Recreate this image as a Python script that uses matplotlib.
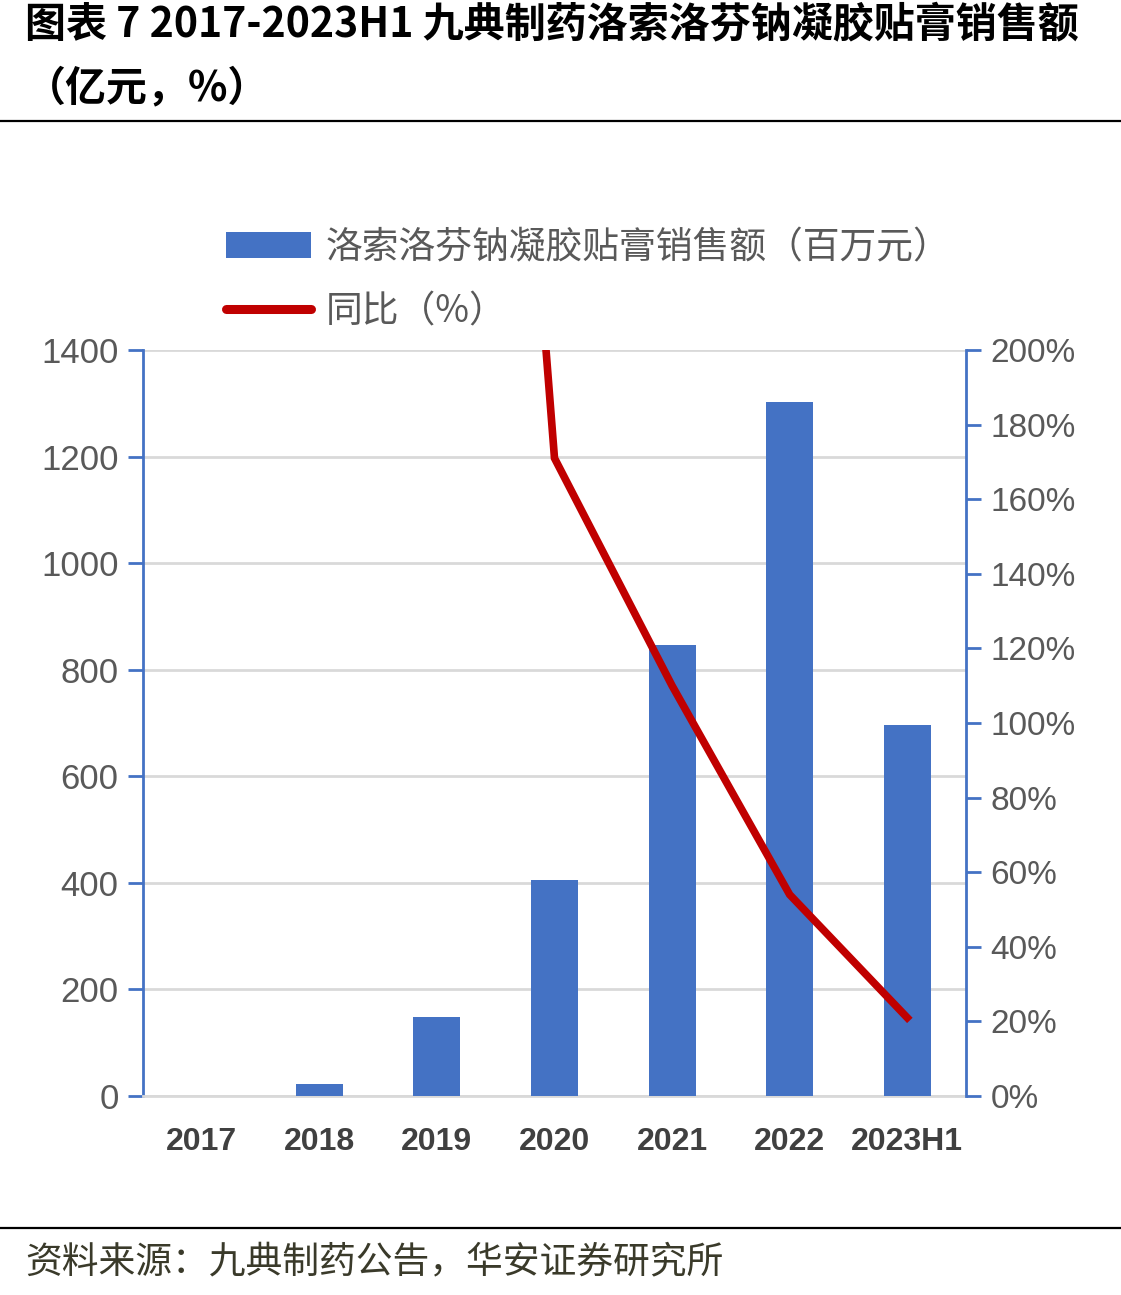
import matplotlib
matplotlib.use("Agg")
import matplotlib.pyplot as plt
from matplotlib.patches import Patch
from matplotlib.lines import Line2D
import numpy as np

plt.rcParams['font.family'] = ['Noto Sans CJK SC', 'DejaVu Sans']

categories = ["2017", "2018", "2019", "2020", "2021", "2022", "2023H1"]
sales = [0, 22, 148, 405, 846, 1302, 696]          # 百万元
yoy_cats = ["2019", "2020", "2021", "2022", "2023H1"]
yoy = [573, 171, 110, 54, 21]                      # %
left_ticks = [0, 200, 400, 600, 800, 1000, 1200, 1400]
right_ticks = [0, 20, 40, 60, 80, 100, 120, 140, 160, 180, 200]

title1 = "图表 7 2017-2023H1 九典制药洛索洛芬钠凝胶贴膏销售额"
title2 = "（亿元，%）"
source = "资料来源：九典制药公告，华安证券研究所"
bar_label = "洛索洛芬钠凝胶贴膏销售额（百万元）"
line_label = "同比（%）"

BLUE = "#4472C4"
RED = "#C00000"
GRID = "#D9D9D9"
TXT = "#595959"

W, H = 1121, 1295
fig = plt.figure(figsize=(W / 100, H / 100), dpi=100)

ax = fig.add_axes([143 / W, 1 - 1096 / H, (966 - 143) / W, (1096 - 350) / H])
x = np.arange(len(categories))
ax.bar(x, sales, width=0.4, color=BLUE, zorder=3)
ax.set_xlim(-0.5, len(categories) - 0.5)
ax.set_ylim(0, 1400)
ax.set_yticks(left_ticks)
ax.set_yticklabels([str(v) for v in left_ticks])
ax.set_xticks(x)
ax.set_xticklabels(categories, fontsize=23, fontweight='bold', color="#404040",
                   family=['Liberation Sans', 'DejaVu Sans'])
ax.tick_params(axis='x', length=0, pad=22)
ax.tick_params(axis='y', direction='out', length=10.5, width=2, color=BLUE,
               labelsize=25, labelcolor=TXT, pad=7)
for lab in ax.get_yticklabels():
    lab.set_family(['Liberation Sans', 'DejaVu Sans'])
ax.grid(axis='y', color=GRID, linewidth=2, zorder=0)
ax.set_axisbelow(True)
ax.spines['top'].set_visible(False)
ax.spines['right'].set_visible(False)
ax.spines['bottom'].set_color(GRID)
ax.spines['bottom'].set_linewidth(2)
ax.spines['left'].set_color(BLUE)
ax.spines['left'].set_linewidth(2)

ax2 = ax.twinx()
xl = [categories.index(c) for c in yoy_cats]
ax2.plot(xl, yoy, color=RED, linewidth=5.5, solid_joinstyle='miter', zorder=5)
ax2.set_ylim(0, 200)
ax2.set_yticks(right_ticks)
ax2.set_yticklabels([f"{v}%" for v in right_ticks])
for lab in ax2.get_yticklabels():
    lab.set_family(['Liberation Sans', 'DejaVu Sans'])
ax2.tick_params(axis='y', direction='out', length=10.5, width=2, color=BLUE,
                labelsize=24, labelcolor=TXT, pad=7)
for s in ['top', 'left', 'bottom']:
    ax2.spines[s].set_visible(False)
ax2.spines['right'].set_color(BLUE)
ax2.spines['right'].set_linewidth(2)

handles = [Patch(facecolor=BLUE, edgecolor='none', label=bar_label),
           Line2D([0], [0], color=RED, linewidth=6.5, solid_capstyle='round', label=line_label)]
leg = fig.legend(handles=handles, loc='upper left', bbox_to_anchor=(226 / W, 1 - 228 / H),
                 frameon=False, fontsize=26.5, handlelength=2.3, handleheight=0.7,
                 handletextpad=0.4, labelspacing=0.68, borderaxespad=0, borderpad=0)
for t in leg.get_texts():
    t.set_color(TXT)

fig.text(25 / W, 1 - 24 / H, title1, fontsize=29.5, fontweight='bold', color='black',
         ha='left', va='center')
fig.text(25 / W, 1 - 88 / H, title2, fontsize=29.5, fontweight='bold', color='black',
         ha='left', va='center')
fig.add_artist(Line2D([0, 1], [1 - 121 / H, 1 - 121 / H], color='black', linewidth=1.6))
fig.add_artist(Line2D([0, 1], [1 - 1228 / H, 1 - 1228 / H], color='black', linewidth=1.6))
fig.text(25 / W, 1 - 1262 / H, source, fontsize=26.5, color='#3a3a2a',
         ha='left', va='center')

fig.savefig("out.png", dpi=100)
